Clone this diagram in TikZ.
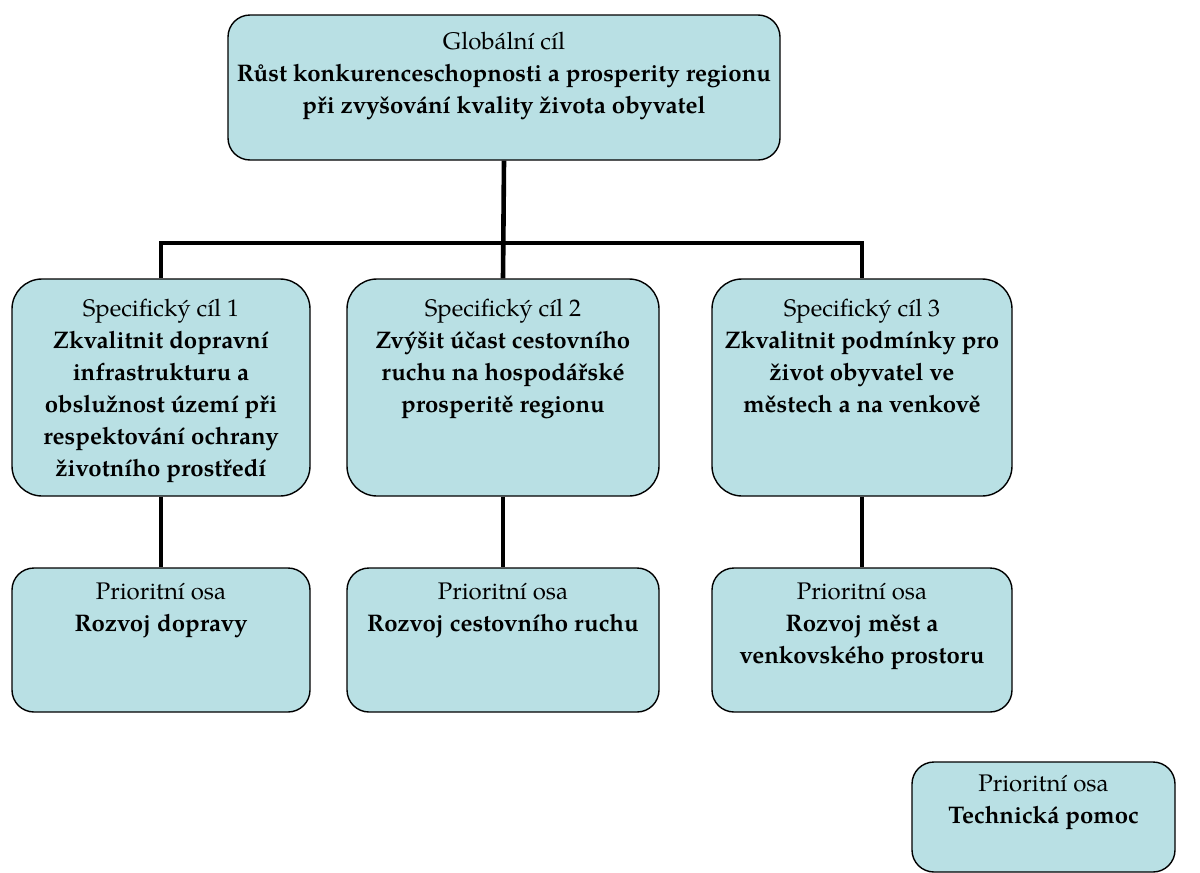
\documentclass[tikz,border=0pt]{standalone}
\usepackage{fontspec}
\setmainfont{TeX Gyre Pagella}
\usepackage{tikz}
\usetikzlibrary{positioning}
\definecolor{goalfill}{RGB}{185,224,228}
\tikzset{
  goalbox/.style={draw,fill=goalfill,line width=0.7pt,rounded corners=11pt,inner sep=0pt},
  goaltxt/.style={align=center,inner sep=0pt,anchor=north,font=\fontsize{12}{16}\selectfont},
  link/.style={line width=2.3pt}
}
\begin{document}
\begin{tikzpicture}[x=0.5pt,y=-0.5pt]
    \useasboundingbox (0,0) rectangle (1200,873);
    % global goal
    \node[goalbox,minimum width=276pt,minimum height=72.5pt] (g) at (504,87.5) {};
    \node[goaltxt] (g_t) at ([yshift=-8.5pt]g.north) {Globální cíl\\
      \textbf{Růst konkurenceschopnosti a prosperity regionu}\\
      \textbf{při zvyšování kvality života obyvatel}};
    % specific goals
    \node[goalbox,rounded corners=15pt,minimum width=149pt,minimum height=108.5pt] (s_1) at (161,387.5) {};
    \node[goalbox,rounded corners=15pt,minimum width=156pt,minimum height=108.5pt] (s_2) at (503,387.5) {};
    \node[goalbox,rounded corners=15pt,minimum width=150pt,minimum height=108.5pt] (s_3) at (862,387.5) {};
    \node[goaltxt] (s_1_t) at ([yshift=-10pt]s_1.north) {Specifický cíl 1\\
      \textbf{Zkvalitnit dopravní}\\ \textbf{infrastrukturu a}\\
      \textbf{obslužnost území při}\\ \textbf{respektování ochrany}\\
      \textbf{životního prostředí}};
    \node[goaltxt] (s_2_t) at ([yshift=-10pt]s_2.north) {Specifický cíl 2\\
      \textbf{Zvýšit účast cestovního}\\ \textbf{ruchu na hospodářské}\\
      \textbf{prosperitě regionu}};
    \node[goaltxt] (s_3_t) at ([yshift=-10pt]s_3.north) {Specifický cíl 3\\
      \textbf{Zkvalitnit podmínky pro}\\ \textbf{život obyvatel ve}\\
      \textbf{městech a na venkově}};
    % priority axes
    \node[goalbox,minimum width=149pt,minimum height=72pt] (p_1) at (161,640) {};
    \node[goalbox,minimum width=156pt,minimum height=72pt] (p_2) at (503,640) {};
    \node[goalbox,minimum width=150pt,minimum height=72pt] (p_3) at (862,640) {};
    \node[goaltxt] (p_1_t) at ([yshift=-7.5pt]p_1.north) {Prioritní osa\\ \textbf{Rozvoj dopravy}};
    \node[goaltxt] (p_2_t) at ([yshift=-7.5pt]p_2.north) {Prioritní osa\\ \textbf{Rozvoj cestovního ruchu}};
    \node[goaltxt] (p_3_t) at ([yshift=-7.5pt]p_3.north) {Prioritní osa\\
      \textbf{Rozvoj měst a}\\ \textbf{venkovského prostoru}};
    \node[goalbox,minimum width=131.5pt,minimum height=55pt] (t) at (1043.5,817) {};
    \node[goaltxt] (t_t) at ([yshift=-6.5pt]t.north) {Prioritní osa\\ \textbf{Technická pomoc}};
    % connectors
    \coordinate (j) at (503,243);
    \draw[link] (g.south) -- (s_2.north);
    \draw[link] (s_1.north) |- (j) -| (s_3.north);
    \foreach \i in {1,2,3}{
      \draw[link] (s_\i.south) -- (p_\i.north);
    }
\end{tikzpicture}
\end{document}
